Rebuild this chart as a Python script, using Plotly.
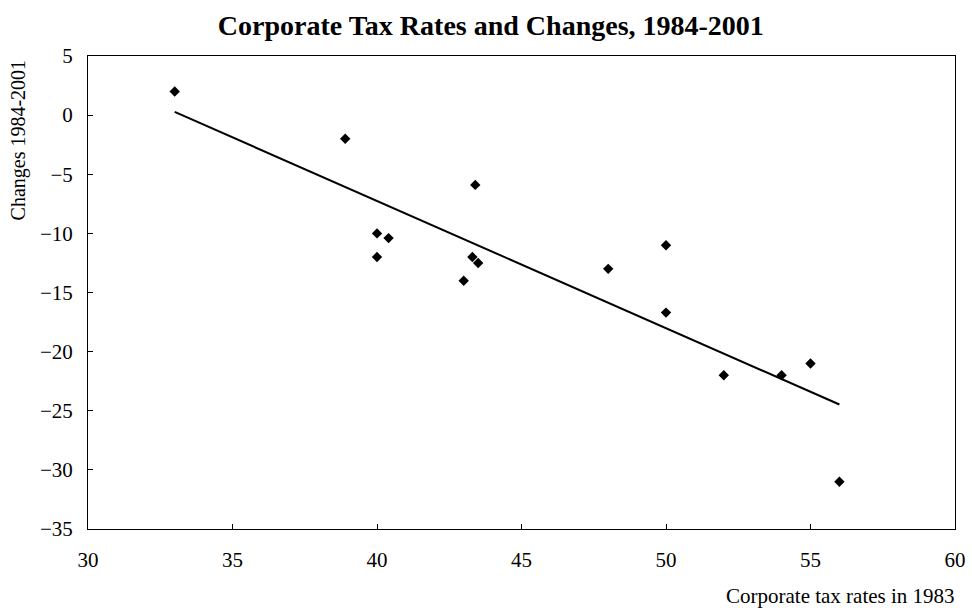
import numpy as np
import plotly.graph_objects as go

# Corporate tax rates in 1983 (%) and change over 1984-2001 (percentage points)
tax_rate_1983 = [33, 38.9, 40, 40.4, 40, 43.4, 43.3, 43.5, 43, 48, 50, 50, 52, 54, 55, 56]
change_1984_2001 = [2, -2, -10, -10.4, -12, -5.9, -12, -12.5, -14, -13, -11, -16.7, -22, -22, -21, -31]

x_ticks = [30, 35, 40, 45, 50, 55, 60]
y_ticks = [5, 0, -5, -10, -15, -20, -25, -30, -35]

# Least-squares trend line across the observed range
slope, intercept = np.polyfit(tax_rate_1983, change_1984_2001, 1)
fit_x = [min(tax_rate_1983), max(tax_rate_1983)]
fit_y = [slope * v + intercept for v in fit_x]

fig = go.Figure()
fig.add_trace(go.Scatter(
    x=tax_rate_1983, y=change_1984_2001, mode="markers",
    marker=dict(symbol="diamond", size=8, color="black"),
    showlegend=False,
))
fig.add_trace(go.Scatter(
    x=fit_x, y=fit_y, mode="lines",
    line=dict(color="black", width=2),
    showlegend=False,
))

serif = "Liberation Serif, 'Times New Roman', serif"
axis_common = dict(
    showgrid=False, zeroline=False, automargin=False,
    showline=True, linecolor="black", linewidth=1, mirror=True,
    ticks="inside", ticklen=5, tickcolor="black", tickwidth=1,
    tickfont=dict(family=serif, size=21, color="black"),
)

fig.update_layout(
    width=972, height=610, autosize=False,
    margin=dict(l=88, r=17, t=56, b=81),
    paper_bgcolor="white", plot_bgcolor="white",
    font=dict(family=serif, color="black"),
    title=dict(
        text="<b>Corporate Tax Rates and Changes, 1984-2001</b>",
        xref="container", x=0.505, xanchor="center",
        yref="container", y=0.958, yanchor="middle",
        font=dict(family=serif, size=28, color="black"),
    ),
    xaxis=dict(range=[30, 60], tickvals=x_ticks, ticklabelstandoff=12, **axis_common),
    yaxis=dict(range=[-35, 5], tickvals=y_ticks, ticklabelstandoff=10, **axis_common),
    annotations=[
        dict(text="Corporate tax rates in 1983", xref="paper", yref="paper",
             x=1.0025, y=-0.1416, xanchor="right", yanchor="middle", showarrow=False,
             font=dict(family=serif, size=21, color="black")),
        dict(text="Changes 1984-2001", xref="paper", yref="paper",
             x=-0.0807, y=0.996, xanchor="center", yanchor="top", textangle=-90,
             showarrow=False, font=dict(family=serif, size=20, color="black")),
    ],
)

fig.write_html("out.html")
